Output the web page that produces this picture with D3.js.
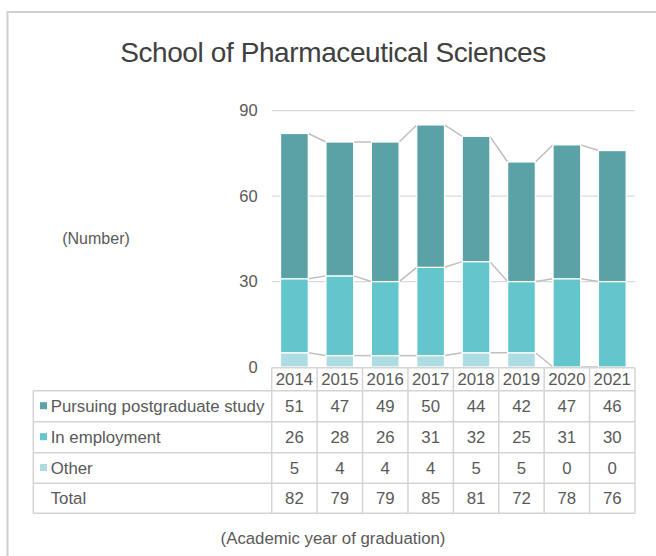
<!DOCTYPE html>
<html><head><meta charset="utf-8">
<script src="https://cdn.jsdelivr.net/npm/d3@7"></script>
<style>body{margin:0;background:#fff}svg{display:block;font-family:Arial,"Liberation Sans",sans-serif}</style>
</head><body><svg id="c" width="656" height="556"></svg>
<script>
const years = ["2014","2015","2016","2017","2018","2019","2020","2021"];
const seriesNames = ["Pursuing postgraduate study","In employment","Other"];
const postgrad = [51,47,49,50,44,42,47,46];
const employment = [26,28,26,31,32,25,31,30];
const other = [5,4,4,4,5,5,0,0];
const totals = [82,79,79,85,81,72,78,76];
const yTicks = [0,30,60,90];
const colors = ["#5ba2a7","#62c6cc","#addde2"];

const svg = d3.select("#c");
const txt = "#595959";
const fs = 16.8;
svg.append("path").attr("d","M7.5,560 V12 H660").attr("fill","none").attr("stroke","#d0d0d0").attr("stroke-width",2);

svg.append("text").attr("x",333).attr("y",62).attr("text-anchor","middle")
  .attr("font-size",28).attr("fill","#404040").attr("letter-spacing","-0.4").text("School of Pharmaceutical Sciences");

const left = 271.7, right = 635;
const x = d3.scaleBand().domain(years).range([left,right]).paddingInner(0).paddingOuter(0);
const y = d3.scaleLinear().domain([0,90]).range([367,110.7]);

svg.append("g").selectAll("line").data(yTicks.slice(1)).join("line")
  .attr("x1",left).attr("x2",right).attr("y1",d=>y(d)).attr("y2",d=>y(d))
  .attr("stroke","#d9d9d9").attr("stroke-width",1.2);

const yAxis = d3.axisLeft(y).tickValues(yTicks).tickSize(0).tickPadding(0);
const ga = svg.append("g").attr("transform",`translate(${left-14},0)`).call(yAxis);
ga.select(".domain").remove();
ga.selectAll("text").attr("font-size",16.5).attr("fill",txt).attr("font-family","Arial, 'Liberation Sans', sans-serif");

const rows = years.map((yr,i)=>({year:yr, p:postgrad[i], e:employment[i], o:other[i]}));
const stack = d3.stack().keys(["o","e","p"])(rows);
const colorByKey = {p:colors[0], e:colors[1], o:colors[2]};
const bw = x.bandwidth()*0.61;
const off = (x.bandwidth()-bw)/2;

stack.forEach(layer=>{
  const g = svg.append("g");
  for(let i=0;i<years.length-1;i++){
    g.append("line")
      .attr("x1",x(years[i])+off+bw).attr("y1",y(layer[i][1]))
      .attr("x2",x(years[i+1])+off).attr("y2",y(layer[i+1][1]))
      .attr("stroke","#bfbfbf").attr("stroke-width",1.5);
  }
});

stack.forEach(layer=>{
  svg.append("g").selectAll("rect").data(layer).join("rect")
    .attr("x",d=>x(d.data.year)+off).attr("width",bw)
    .attr("y",d=>y(d[1])).attr("height",d=>y(d[0])-y(d[1]))
    .attr("fill",colorByKey[layer.key]).attr("stroke","#fff").attr("stroke-width",1.2);
});

const tableLeft = 33.3;
const rowYs = [367.7,390.7,421.7,452.7,483.3,513.3];
const tg = svg.append("g");
const border = "#d4d4d4";
rowYs.forEach((ry,i)=>{
  tg.append("line").attr("x1", i===0?left:tableLeft).attr("x2",right).attr("y1",ry).attr("y2",ry)
    .attr("stroke",border).attr("stroke-width",1.5);
});
tg.append("line").attr("x1",tableLeft).attr("x2",tableLeft).attr("y1",rowYs[1]).attr("y2",rowYs[5]).attr("stroke",border).attr("stroke-width",1.5);
years.concat(["end"]).forEach((yr,i)=>{
  const xx = i<years.length? x(yr) : right;
  tg.append("line").attr("x1",xx).attr("x2",xx).attr("y1",rowYs[0]).attr("y2",rowYs[5]).attr("stroke",border).attr("stroke-width",1.5);
});
years.forEach(yr=>{
  tg.append("text").attr("x",x(yr)+x.bandwidth()/2).attr("y",(rowYs[0]+rowYs[1])/2+6)
    .attr("text-anchor","middle").attr("font-size",fs).attr("fill",txt).text(yr);
});
const tableRows = [
  {label:seriesNames[0], vals:postgrad, color:colors[0]},
  {label:seriesNames[1], vals:employment, color:colors[1]},
  {label:seriesNames[2], vals:other, color:colors[2]},
  {label:"Total", vals:totals, color:null}
];
tableRows.forEach((r,ri)=>{
  const cy = (rowYs[ri+1]+rowYs[ri+2])/2;
  if(r.color) tg.append("rect").attr("x",40).attr("y",cy-4).attr("width",7).attr("height",7).attr("fill",r.color);
  tg.append("text").attr("x",50.7).attr("y",cy+6).attr("font-size",fs).attr("fill",txt).text(r.label);
  r.vals.forEach((v,i)=>{
    tg.append("text").attr("x",x(years[i])+x.bandwidth()/2).attr("y",cy+6)
      .attr("text-anchor","middle").attr("font-size",fs).attr("fill",txt).text(v);
  });
});

svg.append("text").attr("x",96).attr("y",244).attr("text-anchor","middle").attr("font-size",16).attr("fill",txt).text("(Number)");
svg.append("text").attr("x",333).attr("y",544).attr("text-anchor","middle").attr("font-size",fs).attr("fill",txt).text("(Academic year of graduation)");
</script></body></html>
